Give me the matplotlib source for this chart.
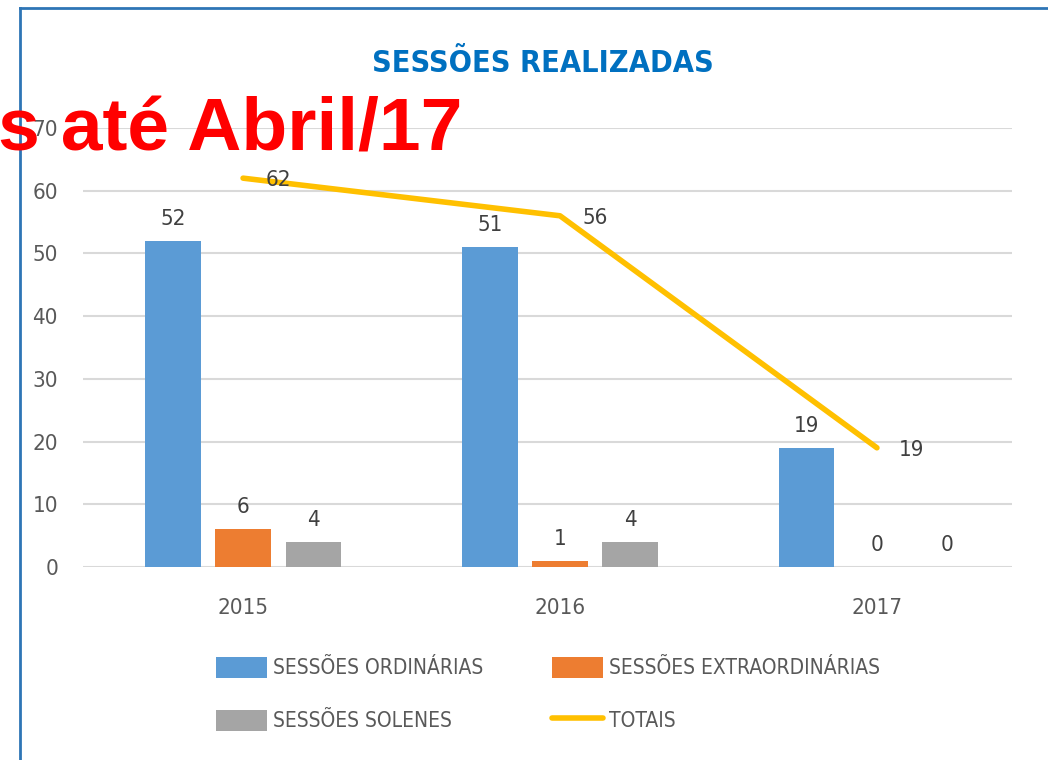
import numpy as np
import matplotlib.pyplot as plt
from matplotlib.lines import Line2D

anos = ['2015', '2016', '2017']
ordinarias = [52, 51, 19]
extraordinarias = [6, 1, 0]
solenes = [4, 4, 0]
totais = [62, 56, 19]

fonte = ['DejaVu Sans']
cinza = '#595959'
plt.rcParams['font.stretch'] = 'condensed'

fig = plt.figure(figsize=(10.48, 7.6), dpi=100)
ax = fig.add_axes([0.0792, 0.254, 0.8864, 0.5776])

x = np.arange(len(anos))
w = 0.174
d = 0.221
series = [(ordinarias, '#5B9BD5', -d, 'SESSÕES ORDINÁRIAS'),
          (extraordinarias, '#ED7D31', 0, 'SESSÕES EXTRAORDINÁRIAS'),
          (solenes, '#A5A5A5', d, 'SESSÕES SOLENES')]
for vals, cor, off, nome in series:
    ax.bar(x + off, vals, w, color=cor, label=nome, zorder=2)
    for xi, v in zip(x + off, vals):
        ax.text(xi, v + 3.5, str(v), ha='center', va='center',
                fontsize=16, color='#404040', family=fonte, stretch='condensed')

ax.plot(x, totais, color='#FFC000', lw=4, solid_capstyle='round',
        zorder=3, label='TOTAIS')
for xi, v in zip(x, totais):
    ax.text(xi + 0.11, v - 0.3, str(v), ha='center', va='center',
            fontsize=16, color='#404040', family=fonte, stretch='condensed')

ax.set_xlim(-0.505, 2.426)
ax.set_ylim(0, 70)
ax.set_yticks(range(0, 71, 10))
ax.set_xticks(x)
ax.set_xticklabels(anos)
ax.grid(axis='y', color='#D9D9D9', lw=1.5, zorder=0)
for s in ax.spines.values():
    s.set_visible(False)
ax.tick_params(length=0, labelsize=16, colors=cinza, pad=18)
ax.tick_params(axis='x', pad=22)
for lab in ax.get_xticklabels() + ax.get_yticklabels():
    lab.set_family(fonte)
    lab.set_stretch('condensed')

h, l = ax.get_legend_handles_labels()
ordem = [1, 3, 2, 0]
h = [h[i] for i in ordem]
l = [l[i] for i in ordem]
leg = fig.legend(h, l, loc='center left', bbox_to_anchor=(0.188, 0.087), ncol=2,
                 frameon=False, handlelength=2.45, handleheight=1.2,
                 handletextpad=0.3, columnspacing=3.3, labelspacing=1.5,
                 prop={'family': fonte, 'size': 15, 'stretch': 'condensed'})
for t in leg.get_texts():
    t.set_color(cinza)

fig.text(0.518, 0.917, 'SESSÕES REALIZADAS', ha='center', va='center',
         fontsize=22, fontweight='bold', color='#0070C0', family=fonte,
         stretch='condensed')

# moldura
fig.add_artist(Line2D([0.019, 0.019], [0, 0.99], color='#2E75B6', lw=2,
                      transform=fig.transFigure))
fig.add_artist(Line2D([0.019, 1], [0.99, 0.99], color='#2E75B6', lw=2,
                      transform=fig.transFigure))

fig.text(-0.002, 0.802, 's até Abril/17', ha='left', va='baseline',
         fontsize=54, fontweight='bold', color='#FF0000',
         family='Liberation Sans', stretch='normal')

fig.savefig('out.png', dpi=100)
